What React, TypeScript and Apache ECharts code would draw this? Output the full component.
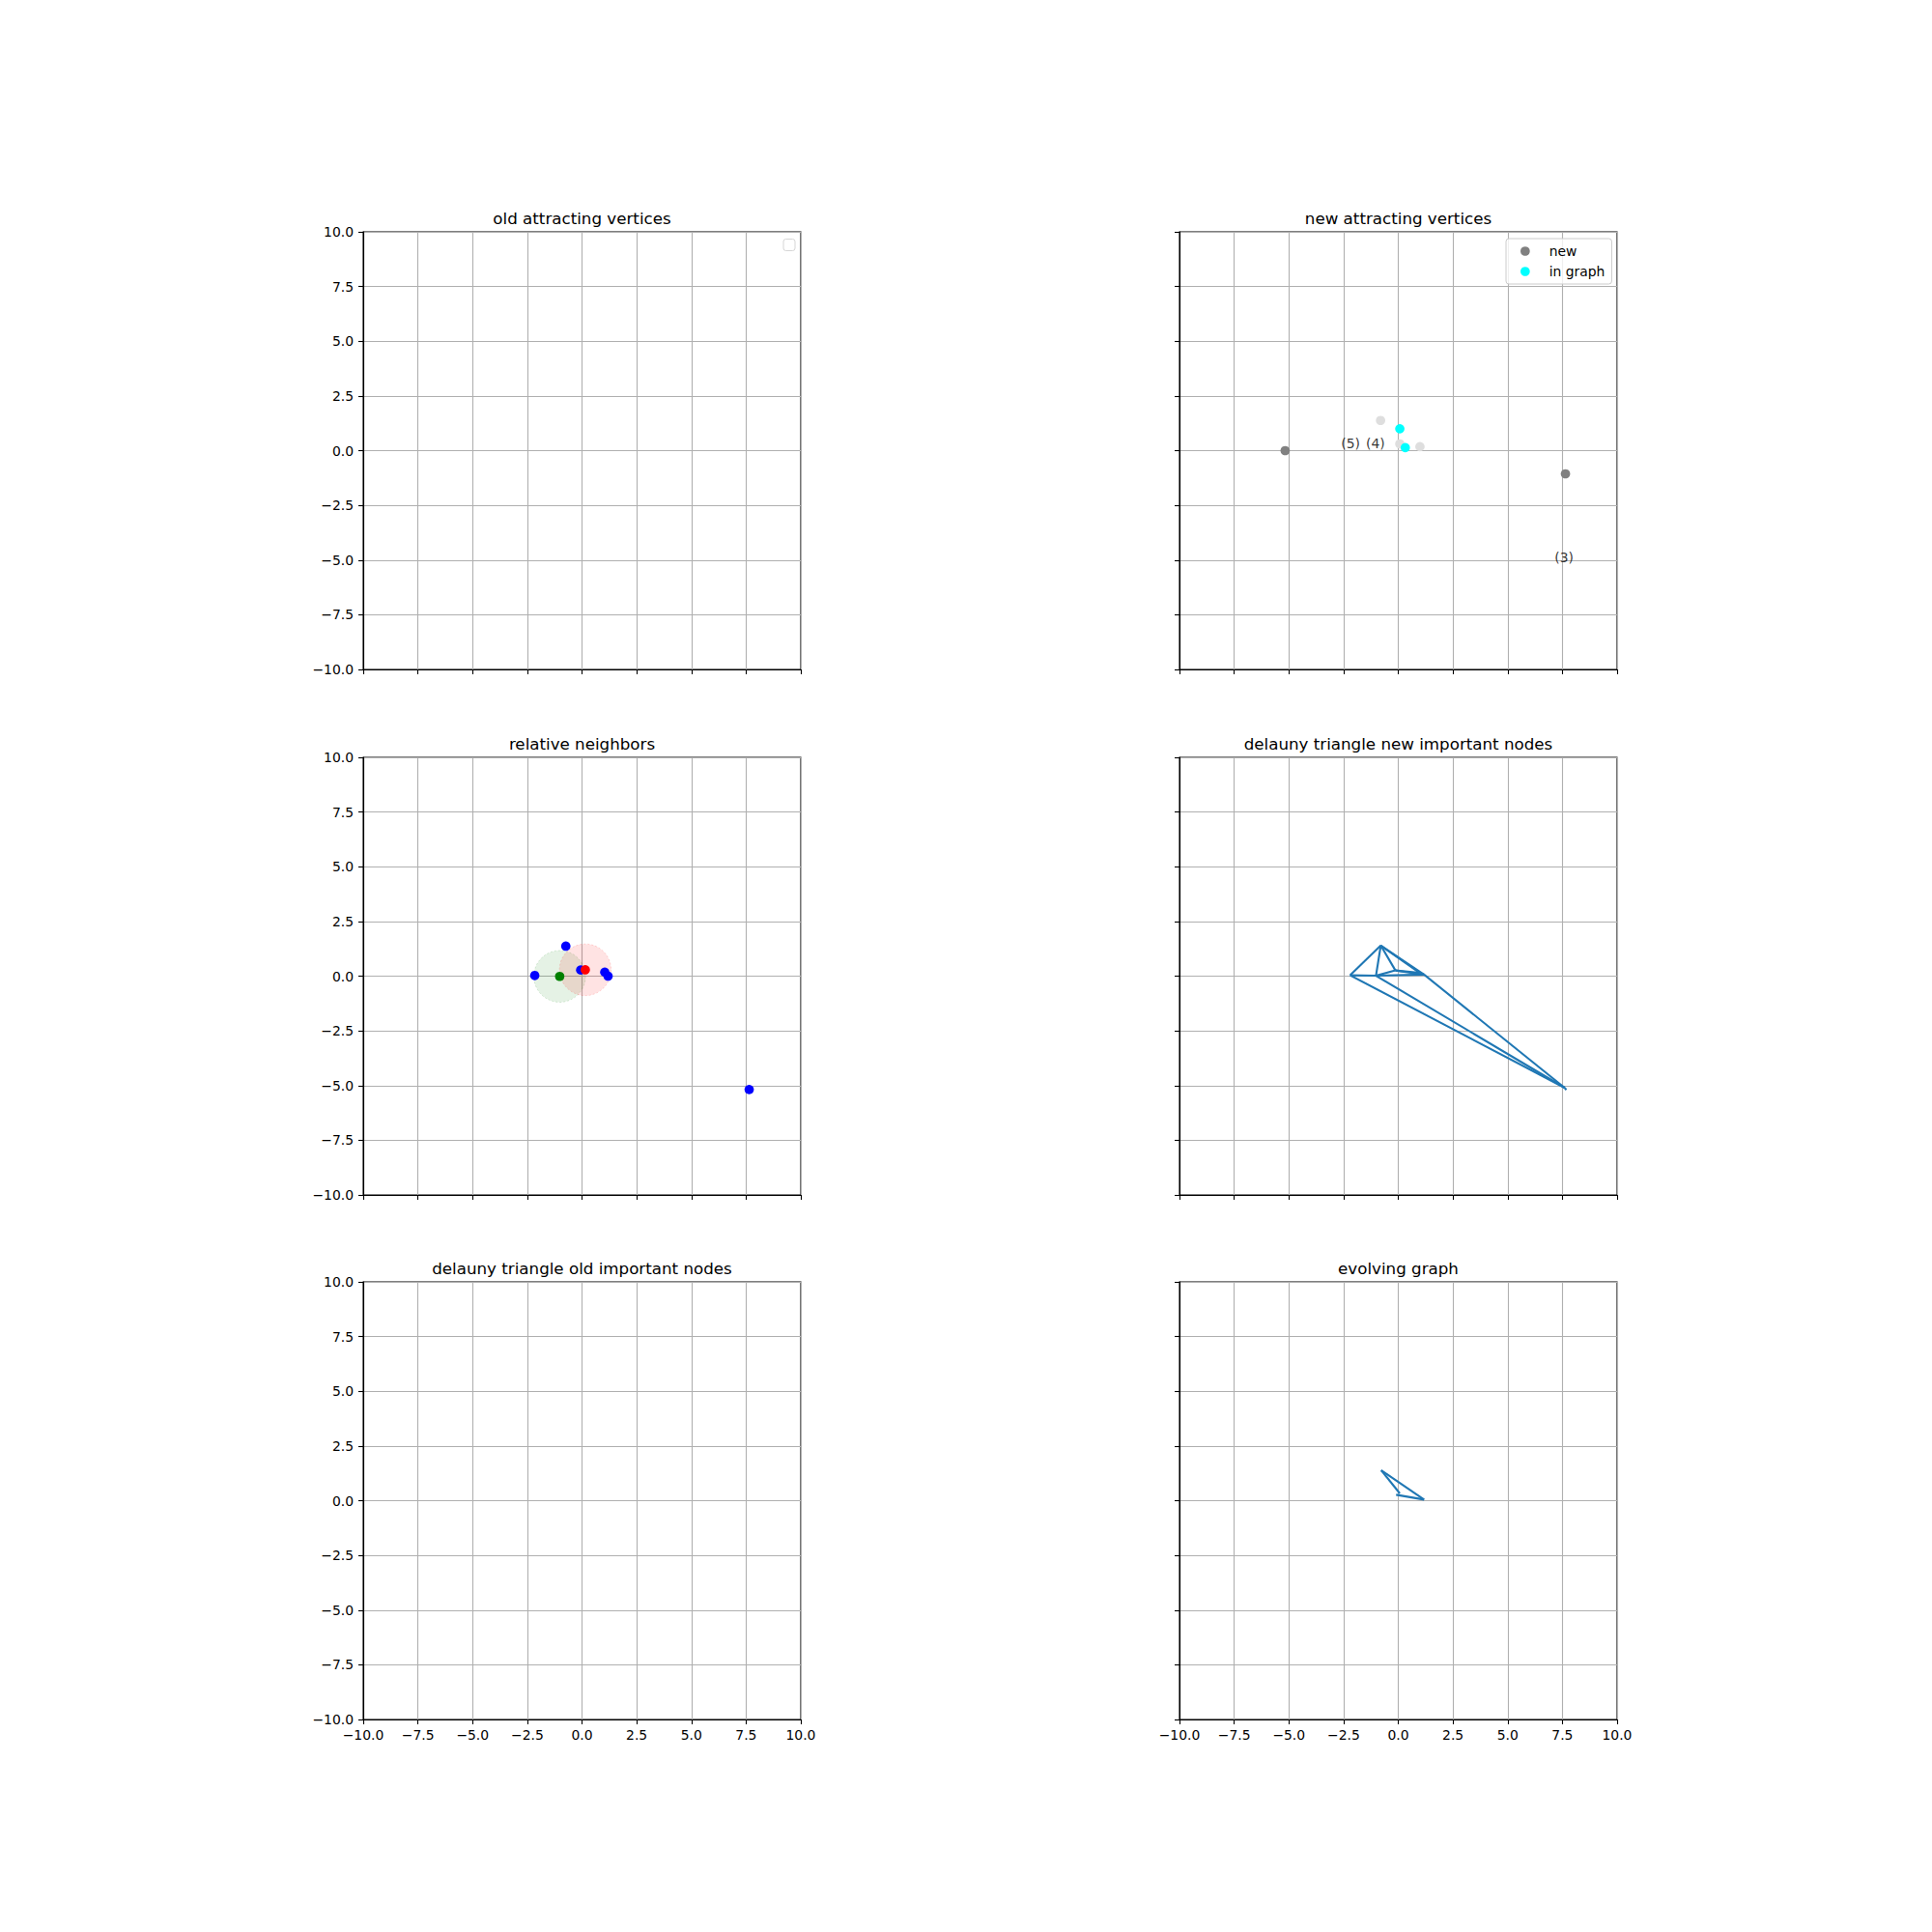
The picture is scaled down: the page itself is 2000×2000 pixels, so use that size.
import React, { useEffect, useRef } from "react";
import * as echarts from "echarts";

// ---------- data ----------
const axisMin = -10;
const axisMax = 10;
const axisStep = 2.5;

const panelTitles = [
  "old attracting vertices",
  "new attracting vertices",
  "relative neighbors",
  "delauny triangle new important nodes",
  "delauny triangle old important nodes",
  "evolving graph",
];

// panel 2: new attracting vertices
const newX = [-5.17, 7.64];
const newY = [0.0, -1.06];
const inGraphX = [0.07, 0.32];
const inGraphY = [1.0, 0.14];
const faintX = [-0.81, 0.07, 0.99];
const faintY = [1.38, 0.31, 0.18];
const tagText = ["(5)", "(4)", "(3)"];
const tagX = [-2.18, -1.04, 7.58];
const tagY = [0.35, 0.35, -4.86];

// panel 3: relative neighbors
const rnBlueX = [-2.16, -0.74, -0.06, 1.04, 1.19, 7.64];
const rnBlueY = [0.03, 1.37, 0.28, 0.18, 0.0, -5.18];
const rnGreenX = [-1.02];
const rnGreenY = [-0.01];
const rnRedX = [0.15];
const rnRedY = [0.29];
const lensX = [-1.02, 0.15];
const lensY = [-0.01, 0.29];
const lensR = [1.18, 1.18];

// panel 4: delaunay triangulation of new important nodes
const dlX = [-2.2, -0.8, -1.02, -0.13, 0.98, 1.18, 7.6, 7.68];
const dlY = [0.04, 1.4, 0.02, 0.26, 0.15, 0.07, -5.1, -5.2];
const dlEdges = [
  [0, 1], [1, 2], [1, 3], [1, 4], [1, 5], [0, 2], [2, 3], [2, 5],
  [3, 4], [3, 5], [4, 5], [0, 6], [2, 6], [5, 6], [6, 7],
];

// panel 6: evolving graph
const egX = [-0.78, 1.18, 0.07, -0.1];
const egY = [1.39, 0.05, 0.33, 0.27];
const egEdges = [[0, 1], [0, 2], [3, 1]];

// ---------- layout / style ----------
const GRID_LEFT = [376, 1221];
const GRID_TOP = [240, 784, 1327];
const SIZE = 453;
const FONT = "'DejaVu Sans', sans-serif";
const TICK_FS = 13.9;
const TITLE_FS = 16.7;
const LINE_BLUE = "#1f77b4";
const DOT = 9.7;

const fmt = (v: number) => v.toFixed(1).replace("-", "\u2212");

function edgesToLines(xs: number[], ys: number[], edges: number[][]) {
  return edges.map(([a, b]) => ({ coords: [[xs[a], ys[a]], [xs[b], ys[b]]] }));
}
function zipXY(xs: number[], ys: number[]) {
  return xs.map((x, i) => [x, ys[i]]);
}

export default function App() {
  const ref = useRef<HTMLDivElement>(null);
  useEffect(() => {
    if (!ref.current) return;
    const chart = echarts.init(ref.current, undefined, { renderer: "svg" });

    const grids: any[] = [];
    const xAxes: any[] = [];
    const yAxes: any[] = [];
    const titles: any[] = [];
    for (let i = 0; i < 6; i++) {
      const row = Math.floor(i / 2);
      const col = i % 2;
      grids.push({
        left: GRID_LEFT[col],
        top: GRID_TOP[row],
        width: SIZE,
        height: SIZE,
        show: true,
        borderColor: "#000",
        borderWidth: 1.1,
        backgroundColor: "#fff",
        containLabel: false,
      });
      const axisCommon = {
        type: "value",
        min: axisMin,
        max: axisMax,
        interval: axisStep,
        axisLine: { show: true, onZero: false, lineStyle: { color: "#000", width: 1.1 } },
        axisTick: { show: true, inside: false, length: 5, lineStyle: { color: "#000", width: 1.1 } },
        splitLine: { show: true, lineStyle: { color: "#b0b0b0", width: 1.1 } },
      };
      xAxes.push({
        ...axisCommon,
        gridIndex: i,
        axisLabel: {
          show: row === 2,
          formatter: fmt,
          color: "#000",
          fontSize: TICK_FS,
          fontFamily: FONT,
          margin: 9,
          showMinLabel: true,
          showMaxLabel: true,
        },
      });
      yAxes.push({
        ...axisCommon,
        gridIndex: i,
        axisLabel: {
          show: col === 0,
          formatter: fmt,
          color: "#000",
          fontSize: TICK_FS,
          fontFamily: FONT,
          margin: 10,
          showMinLabel: true,
          showMaxLabel: true,
        },
      });
      titles.push({
        text: panelTitles[i],
        left: GRID_LEFT[col] + SIZE / 2,
        top: GRID_TOP[row] - 22.4,
        textAlign: "center",
        padding: 0,
        textStyle: { fontSize: TITLE_FS, fontWeight: "normal", color: "#000", fontFamily: FONT },
      });
    }

    const lensFill = ["rgba(0,128,0,0.1)", "rgba(255,0,0,0.11)"];
    const lensStroke = ["rgba(0,128,0,0.15)", "rgba(255,0,0,0.15)"];

    const dot = (color: string) => ({ color, opacity: 1 });

    const series: any[] = [
      // panel 2
      {
        type: "scatter",
        name: "faint",
        xAxisIndex: 1,
        yAxisIndex: 1,
        data: zipXY(faintX, faintY),
        symbolSize: DOT,
        itemStyle: dot("#dedede"),
        silent: true,
      },
      {
        type: "scatter",
        name: "new",
        xAxisIndex: 1,
        yAxisIndex: 1,
        data: zipXY(newX, newY),
        symbolSize: DOT,
        itemStyle: dot("#808080"),
      },
      {
        type: "scatter",
        name: "in graph",
        xAxisIndex: 1,
        yAxisIndex: 1,
        data: zipXY(inGraphX, inGraphY),
        symbolSize: DOT,
        itemStyle: dot("#00ffff"),
      },
      {
        type: "scatter",
        name: "tags",
        xAxisIndex: 1,
        yAxisIndex: 1,
        data: zipXY(tagX, tagY),
        symbolSize: 0.01,
        itemStyle: { color: "transparent" },
        silent: true,
        label: {
          show: true,
          position: "inside",
          formatter: (p: any) => tagText[p.dataIndex],
          color: "#000",
          fontSize: TICK_FS,
          fontFamily: FONT,
        },
      },
      // panel 3
      {
        type: "custom",
        name: "lens",
        xAxisIndex: 2,
        yAxisIndex: 2,
        data: lensX.map((x, i) => [x, lensY[i], lensR[i]]),
        silent: true,
        renderItem: (params: any, api: any) => {
          const c = api.coord([api.value(0), api.value(1)]);
          const s = api.size([api.value(2), api.value(2)]);
          const k = params.dataIndex;
          return {
            type: "circle",
            shape: { cx: c[0], cy: c[1], r: s[0] },
            style: { fill: lensFill[k], stroke: lensStroke[k], lineWidth: 1, lineDash: [2, 2] },
          };
        },
      },
      {
        type: "scatter",
        name: "neighbors",
        xAxisIndex: 2,
        yAxisIndex: 2,
        data: zipXY(rnBlueX, rnBlueY),
        symbolSize: DOT,
        itemStyle: dot("#0000ff"),
      },
      {
        type: "scatter",
        name: "source",
        xAxisIndex: 2,
        yAxisIndex: 2,
        data: zipXY(rnGreenX, rnGreenY),
        symbolSize: DOT,
        itemStyle: dot("#008000"),
      },
      {
        type: "scatter",
        name: "target",
        xAxisIndex: 2,
        yAxisIndex: 2,
        data: zipXY(rnRedX, rnRedY),
        symbolSize: DOT,
        itemStyle: dot("#ff0000"),
      },
      // panel 4
      {
        type: "lines",
        name: "delaunay",
        coordinateSystem: "cartesian2d",
        xAxisIndex: 3,
        yAxisIndex: 3,
        data: edgesToLines(dlX, dlY, dlEdges),
        lineStyle: { color: LINE_BLUE, width: 2.1, opacity: 1, curveness: 0 },
        silent: true,
      },
      // panel 6
      {
        type: "lines",
        name: "graph",
        coordinateSystem: "cartesian2d",
        xAxisIndex: 5,
        yAxisIndex: 5,
        data: edgesToLines(egX, egY, egEdges),
        lineStyle: { color: LINE_BLUE, width: 2.1, opacity: 1, curveness: 0 },
        silent: true,
      },
    ];

    chart.setOption({
      animation: false,
      backgroundColor: "#fff",
      textStyle: { fontFamily: FONT },
      title: titles,
      grid: grids,
      xAxis: xAxes,
      yAxis: yAxes,
      legend: {
        data: ["new", "in graph"],
        orient: "vertical",
        left: 1559,
        top: 247,
        padding: [6, 7, 6, 15],
        itemWidth: 9.7,
        itemHeight: 9.7,
        itemGap: 7,
        icon: "circle",
        borderColor: "#cccccc",
        borderWidth: 1,
        borderRadius: 3,
        backgroundColor: "rgba(255,255,255,0.8)",
        selectedMode: false,
        textStyle: { fontSize: TICK_FS, color: "#000", fontFamily: FONT, padding: [0, 0, 0, 15] },
      },
      graphic: [
        {
          type: "rect",
          shape: { x: 811, y: 247.5, width: 12, height: 12, r: 2.5 },
          style: { fill: "rgba(255,255,255,0.8)", stroke: "#d6d6d6", lineWidth: 1 },
          z: 100,
        },
      ],
      series,
    });
    return () => chart.dispose();
  }, []);
  return (
    <div
      ref={ref}
      style={{ position: "absolute", left: 0, top: 0, width: 2000, height: 2000, background: "#fff" }}
    />
  );
}
